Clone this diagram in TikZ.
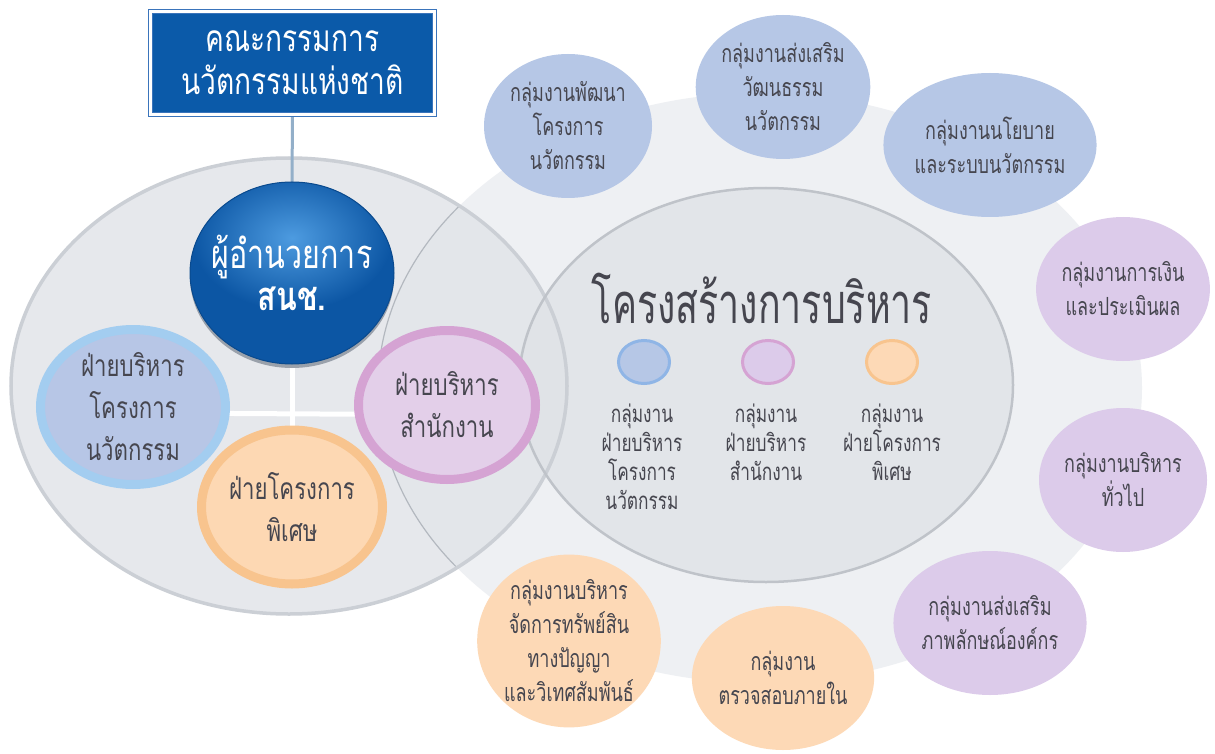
\documentclass[tikz,border=0pt]{standalone}
\usepackage{fontspec}
\newfontfamily\thsm[Script=Thai,FakeStretch=0.72]{Loma}
\newfontfamily\thdiv[Script=Thai,FakeStretch=0.74]{Loma}
\newfontfamily\thbig[Script=Thai,FakeStretch=0.76]{Loma}
\newfontfamily\thtitle[Script=Thai,FakeStretch=0.67]{Loma}
\usetikzlibrary{shapes.geometric}
\pgfdeclarelayer{back}
\pgfsetlayers{back,main}
\definecolor{boxblue}{HTML}{0B5AA9}
\definecolor{boxline}{HTML}{3A74BB}
\definecolor{dirblue}{HTML}{0C56A4}
\definecolor{diredge}{HTML}{0A4A8E}
\definecolor{dirhl}{HTML}{4D9BE0}
\definecolor{dshadow}{HTML}{9AA1AB}
\definecolor{connc}{HTML}{93AFC9}
\definecolor{pale}{HTML}{EEF0F3}
\definecolor{lgray}{HTML}{E2E5E9}
\definecolor{igray}{HTML}{E0E3E7}
\definecolor{rimgray}{HTML}{CBCFD5}
\definecolor{irimgray}{HTML}{BFC3C9}
\definecolor{orimgray}{HTML}{B3B8BF}
\definecolor{txt}{HTML}{46464F}
\definecolor{lbring}{HTML}{A3CDF0}
\definecolor{lbfill}{HTML}{B7C6E6}
\definecolor{legbring}{HTML}{8FB5E6}
\definecolor{pkring}{HTML}{D5A3D3}
\definecolor{pkfill}{HTML}{E3CFE9}
\definecolor{orring}{HTML}{F8C48E}
\definecolor{orfill}{HTML}{FDD8B3}
\definecolor{sbluec}{HTML}{B6C7E6}
\definecolor{spurc}{HTML}{DCCBEA}
\definecolor{soranc}{HTML}{FDD9B6}
\begin{document}
\begin{tikzpicture}[x=1pt,y=-1pt,
  every node/.style={inner sep=0pt, outer sep=0pt},
  boxst/.style={rectangle, minimum width=284, minimum height=103, fill=boxblue,
    draw=boxline, double=white, double distance=3pt, line width=1pt,
    text=white, align=center, font=\thbig\fontsize{37}{43}\selectfont},
  dirst/.style={ellipse, minimum width=204, minimum height=182, text=white,
    align=center, font=\thbig\fontsize{40}{42}\selectfont},
  divst/.style={ellipse, line width=9pt, text=txt, align=center,
    font=\thdiv\fontsize{30}{42}\selectfont},
  smallc/.style={ellipse, minimum width=168, minimum height=144, text=txt,
    align=center, font=\thsm\fontsize{25}{34}\selectfont},
  grpblue/.style={smallc, fill=sbluec},
  grppur/.style={smallc, fill=spurc},
  grporan/.style={smallc, fill=soranc},
  legc/.style={ellipse, minimum width=51, minimum height=43, line width=3pt},
  legt/.style={text=txt, align=center, font=\thsm\fontsize{24}{29}\selectfont},
  conn/.style={draw=connc, line width=3pt},
  wline/.style={draw=white, line width=5pt}
]
\useasboundingbox (0,0) rectangle (1215,754);
\begin{pgfonlayer}{back}
\fill[white] (0,0) rectangle (1215,754);
\fill[pale] (760,388) ellipse [x radius=382, y radius=295];
\fill[lgray, fill opacity=0.85] (289,386) ellipse [x radius=278, y radius=228];
\fill[igray, fill opacity=0.8] (766,385) ellipse [x radius=247, y radius=197];
\begin{scope}
  \clip (289,386) ellipse [x radius=278, y radius=228];
  \draw[orimgray, line width=1.2pt] (760,388) ellipse [x radius=382, y radius=295];
\end{scope}
\draw[rimgray, line width=3.5pt] (289,386) ellipse [x radius=278, y radius=228];
\draw[irimgray, line width=2.5pt] (766,385) ellipse [x radius=247, y radius=197];
\end{pgfonlayer}

% top box
\node[boxst] (box) at (292.5,63) {คณะกรรมการ\\นวัตกรรมแห่งชาติ};

% director
\fill[dshadow] (292,277) ellipse [x radius=102, y radius=91];
\fill[dirblue] (292,273) ellipse [x radius=102, y radius=91];
\begin{scope}
  \clip (292,273) ellipse [x radius=102, y radius=91];
  \shade[inner color=dirhl, outer color=dirblue] (292,238) ellipse [x radius=100, y radius=72];
\end{scope}
\draw[diredge, line width=1pt] (292,273) ellipse [x radius=102, y radius=91];
\node[dirst] (dir) at (292,273) {ผู้อำนวยการ\\{\bfseries สนช.}};

% divisions
\node[divst, minimum width=185, minimum height=155, fill=lbfill, draw=lbring] (ldiv) at (133,407) {ฝ่ายบริหาร\\โครงการ\\นวัตกรรม};
\node[divst, minimum width=181, minimum height=154, fill=orfill, draw=orring] (odiv) at (292,507) {ฝ่ายโครงการ\\พิเศษ};
\node[divst, minimum width=177, minimum height=149, fill=pkfill, draw=pkring] (pdiv) at (447,405) {ฝ่ายบริหาร\\สำนักงาน};

% title and legend
\node[text=txt, font=\thtitle\fontsize{56}{60}\selectfont] (title) at (762,298) {โครงสร้างการบริหาร};
\node[legc, fill=sbluec, draw=legbring] (leg1) at (644,362) {};
\node[legc, fill=spurc, draw=pkring] (leg2) at (768,362) {};
\node[legc, fill=soranc, draw=orring] (leg3) at (892,362) {};
\node[legt] (leg1t) at (642,457) {กลุ่มงาน\\ฝ่ายบริหาร\\โครงการ\\นวัตกรรม};
\node[legt] (leg2t) at (766,442) {กลุ่มงาน\\ฝ่ายบริหาร\\สำนักงาน};
\node[legt] (leg3t) at (892,442) {กลุ่มงาน\\ฝ่ายโครงการ\\พิเศษ};

% work groups
\node[grpblue] (g1) at (568,126) {กลุ่มงานพัฒนา\\โครงการ\\นวัตกรรม};
\node[grpblue] (g2) at (783,87) {กลุ่มงานส่งเสริม\\วัฒนธรรม\\นวัตกรรม};
\node[grpblue] (g3) at (990,145) {กลุ่มงานนโยบาย\\และระบบนวัตกรรม};
\node[grppur] (g4) at (1123,289) {กลุ่มงานการเงิน\\และประเมินผล};
\node[grppur] (g5) at (1123,480) {กลุ่มงานบริหาร\\ทั่วไป};
\node[grppur] (g6) at (990,623) {กลุ่มงานส่งเสริม\\ภาพลักษณ์องค์กร};
\node[grporan] (g7) at (783,678) {กลุ่มงาน\\ตรวจสอบภายใน};
\node[grporan] (g8) at (569,641) {กลุ่มงานบริหาร\\จัดการทรัพย์สิน\\ทางปัญญา\\และวิเทศสัมพันธ์};

% connectors
\begin{pgfonlayer}{back}
\draw[conn] (box.south) -- (dir.north);
\draw[wline] (dir.south) -- (odiv.north);
\draw[wline] (ldiv.-4) -- (pdiv.186);
\end{pgfonlayer}
\end{tikzpicture}
\end{document}
